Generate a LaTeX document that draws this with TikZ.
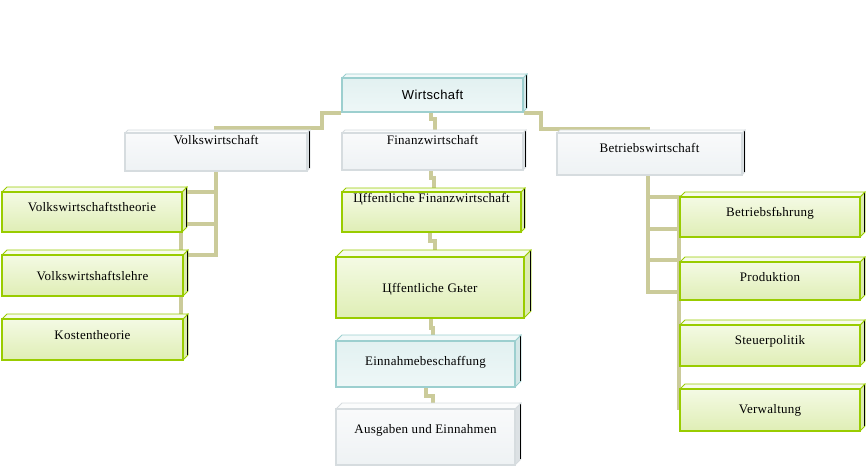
\documentclass[tikz,border=0pt]{standalone}
\usepackage{fontspec}
\setmainfont{Liberation Serif}[LetterSpace=2]
\newfontfamily\wsans{Liberation Sans}[LetterSpace=3]
\usetikzlibrary{fit,calc}
\pgfdeclarelayer{bg}
\pgfsetlayers{bg,main}
\definecolor{conncol}{HTML}{CBCB9A}
\definecolor{greenB}{HTML}{99CC00}
\definecolor{greenF1}{HTML}{F4FAE4}
\definecolor{greenF2}{HTML}{DFEEB5}
\definecolor{greenT}{HTML}{F7FBEC}
\definecolor{greenS}{HTML}{DCEBB2}
\definecolor{tealB}{HTML}{9CCFCF}
\definecolor{tealF1}{HTML}{E2F1F1}
\definecolor{tealF2}{HTML}{EEF7F7}
\definecolor{tealT}{HTML}{F2F9F9}
\definecolor{tealS}{HTML}{D3E7E7}
\definecolor{greyB}{HTML}{D6DCDF}
\definecolor{greyF1}{HTML}{F9FAFB}
\definecolor{greyF2}{HTML}{EEF2F4}
\definecolor{greyT}{HTML}{FBFCFC}
\definecolor{greyS}{HTML}{DCE1E4}
\tikzset{
  conn/.style={draw=conncol, line width=4pt},
  txt/.style={font=\fontsize{13}{15}\selectfont, inner sep=0pt, anchor=base},
}
% #1 name, #2 x1, #3 y1, #4 x2, #5 y2, #6 depth, #7 scheme, #8 baseline, #9 text
\newcommand\tdbox[9]{%
  \filldraw[fill=#7S, draw=#7B, line width=0.8pt] (#4,#3) -- ({#4+#6},{#3-#6}) -- ({#4+#6},{#5-#6}) -- (#4,#5) -- cycle;
  \draw[black, line width=1pt] ({#4+#6-0.8},{#3-#6+1}) -- ({#4+#6-0.8},{#5-#6});
  \filldraw[fill=#7T, draw=#7B, line width=0.8pt] (#2,#3) -- ({#2+#6},{#3-#6}) -- ({#4+#6},{#3-#6}) -- (#4,#3) -- cycle;
  \node[draw=#7B, line width=1.2pt, top color=#7F1, bottom color=#7F2, inner sep=0pt, fit={(#2,#3) (#4,#5)}] (#1) {};
  \node[txt] (#1t) at ({(#2+#4)/2},#8) {#9};
}
\begin{document}
\begin{tikzpicture}[x=1pt,y=-1pt]
\useasboundingbox (0,0) rectangle (867,468);

\tdbox{wi}{342}{78}{523}{112}{4}{teal}{99.5}{\wsans Wirtschaft}
\tdbox{vw}{125}{133}{307}{171}{3}{grey}{145}{Volkswirtschaft}
\tdbox{fw}{342}{133}{523}{170}{3}{grey}{145}{Finanzwirtschaft}
\tdbox{bw}{557}{133}{742}{175}{3}{grey}{153}{Betriebswirtschaft}

\tdbox{vt}{2}{192}{182}{232}{5}{green}{211}{Volkswirtschaftstheorie}
\tdbox{vl}{2}{255}{183}{296}{5}{green}{280.5}{Volkswirtshaftslehre}
\tdbox{kt}{2}{319}{183}{360}{5}{green}{339.5}{Kostentheorie}

\tdbox{of}{342}{192}{521}{232}{4}{green}{202.7}{Цffentliche Finanzwirtschaft}
\tdbox{og}{336}{257}{524}{318}{7}{green}{292.7}{Цffentliche Gьter}
\tdbox{en}{336}{341}{515}{387}{6}{teal}{365}{Einnahmebeschaffung}
\tdbox{au}{336}{409}{515}{465}{6}{grey}{433.3}{Ausgaben und Einnahmen}

\tdbox{bf}{680}{197}{860}{237}{5}{green}{216}{Betriebsfьhrung}
\tdbox{pr}{680}{262}{860}{300}{5}{green}{281.7}{Produktion}
\tdbox{sp}{680}{325}{860}{366}{5}{green}{344}{Steuerpolitik}
\tdbox{vwt}{680}{389}{860}{431}{5}{green}{413.3}{Verwaltung}

\begin{pgfonlayer}{bg}
% top level
\draw[conn] (wi.south west) -| ++(-19,15) -| (vw.north);
\draw[conn] (wi.south east) -| ++(17,16) -| ([xshift=-2pt]bw.north);
% centre column
\draw[conn] ([xshift=-2pt]wi.south) -- ++(0,6) -| ([xshift=2pt]fw.north);
\draw[conn] ([xshift=-2pt]fw.south) -- ++(0,7) -| ([xshift=2pt]of.north);
\draw[conn] ([xshift=-1.5pt]of.south) -- ++(0,8) -| ([xshift=5pt]og.north);
\draw[conn] ([xshift=1pt]og.south) -- ++(0,9) -| ([xshift=7pt]en.north);
\draw[conn] (en.south) -- ++(0,8) -| ([xshift=7.5pt]au.north);
% left branch
\draw[conn] (vw.south) -- ++(0,83) -- ++(-35,0);
\draw[conn] ([yshift=-20pt]vw.south) -- ++(-35,0) |- (kt.east);
\draw[conn] ([yshift=-52pt]vw.south) -- ++(-35,0);
% right branch
\draw[conn] ([xshift=-2pt]bw.south) -- ++(0,116) -- ++(33,0);
\draw[conn] ([xshift=-2pt,yshift=-21pt]bw.south) -| (vwt.west);
\draw[conn] ([xshift=-2pt,yshift=-53pt]bw.south) -- ++(33,0);
\draw[conn] ([xshift=-2pt,yshift=-84pt]bw.south) -- ++(33,0);
\end{pgfonlayer}
\end{tikzpicture}
\end{document}
